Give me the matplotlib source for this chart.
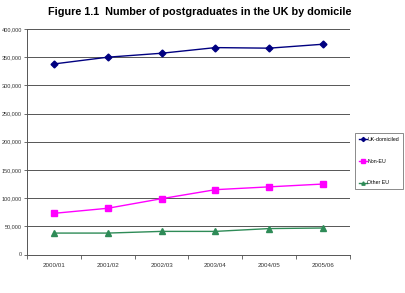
import matplotlib
matplotlib.use("Agg")
import matplotlib.pyplot as plt
from matplotlib.ticker import FuncFormatter, FixedLocator

years = ["2000/01", "2001/02", "2002/03", "2003/04", "2004/05", "2005/06"]
uk_domiciled = [338000, 350000, 357000, 367000, 366000, 373000]
non_eu = [73000, 82000, 99000, 115000, 120000, 125000]
other_eu = [38000, 38000, 41000, 41000, 46000, 47000]

plt.rcParams['font.family'] = ['Liberation Sans', 'DejaVu Sans']
fig = plt.figure(figsize=(4.06, 2.93), dpi=100)
ax = fig.add_axes([27/406, 1 - 254.5/293, 323/406, 225.5/293])

x = list(range(len(years)))
ax.plot(x, uk_domiciled, color="#000080", marker="D", markersize=3.5, lw=1, label="UK-domiciled")
ax.plot(x, non_eu, color="#ff00ff", marker="s", markersize=4, lw=1, label="Non-EU")
ax.plot(x, other_eu, color="#2e8b57", marker="^", markersize=4, lw=1, label="Other EU")

ax.set_xlim(-0.5, len(years) - 0.5)
ax.set_ylim(0, 400000)
ax.set_yticks(range(0, 400001, 50000))
ax.yaxis.set_major_formatter(FuncFormatter(lambda v, p: f"{int(v):,}"))
ax.set_xticks(x)
ax.set_xticklabels(years)
ax.xaxis.set_minor_locator(FixedLocator([i - 0.5 for i in range(len(years) + 1)]))
ax.tick_params(axis='x', which='major', length=0, labelsize=4.5, pad=6, labelcolor='#333333')
ax.tick_params(axis='x', which='minor', length=3, width=0.6, color='#555555')
ax.tick_params(axis='y', labelsize=4, length=2.5, width=0.6, color='#555555', pad=1, labelcolor='#333333')
ax.grid(axis='y', color='#555555', lw=0.7)
ax.set_axisbelow(True)
for s in ['top', 'right']:
    ax.spines[s].set_visible(False)
for s in ['left', 'bottom']:
    ax.spines[s].set_color('#555555')
    ax.spines[s].set_linewidth(0.7)

fig.text(200/406, 1 - 12/293, "Figure 1.1  Number of postgraduates in the UK by domicile",
         ha='center', va='center', fontsize=7.8, fontweight='bold')

leg = fig.legend(loc='upper left', bbox_to_anchor=(355/406, 1 - 133/293), fontsize=3.8,
                 frameon=True, fancybox=False, edgecolor='#555555', labelspacing=3.2,
                 handlelength=1.5, handletextpad=0.15, borderpad=0.7, markerscale=0.6,
                 borderaxespad=0)
leg.get_frame().set_linewidth(0.6)

fig.savefig("out.png", dpi=100)
